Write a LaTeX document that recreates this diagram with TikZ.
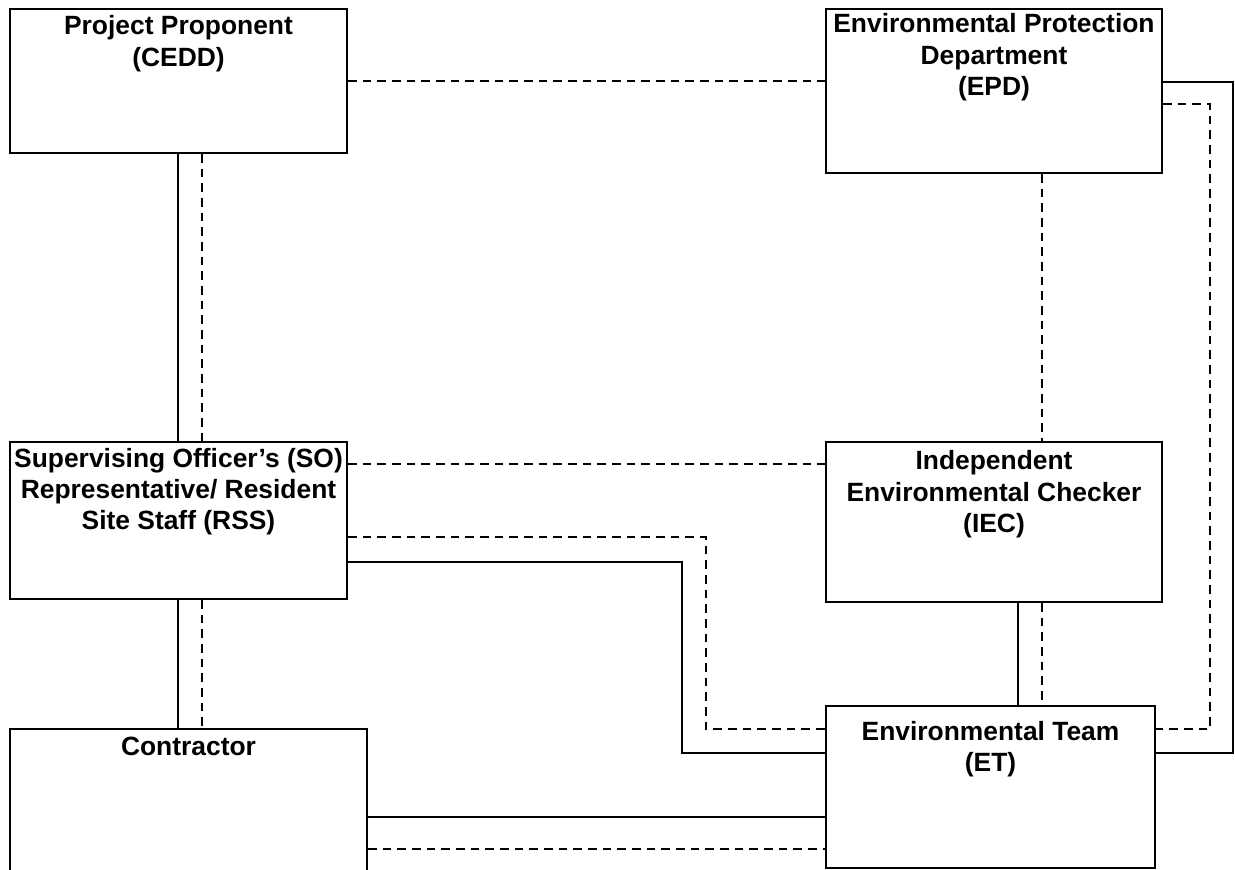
\documentclass[tikz,border=0pt]{standalone}
\usepackage{fontspec}
\setmainfont{Liberation Sans}
\usepackage{xcolor}
\usetikzlibrary{positioning,calc}
\definecolor{boxline}{HTML}{000000}
\definecolor{boxfill}{HTML}{FFFFFF}

\begin{document}
\begin{tikzpicture}[x=0.75pt,y=-0.75pt,
    orgbox/.style={draw=boxline,fill=boxfill,line width=1.5pt,inner sep=0pt},
    orgtext/.style={inner sep=0pt,align=center,
                    font=\bfseries\fontsize{19.8}{23.6}\selectfont},
    solidlink/.style={draw=boxline,line width=1.4pt},
    dashlink/.style={draw=boxline,line width=1.4pt,dash pattern=on 6.5pt off 4.5pt}]
      \useasboundingbox (0,0) rectangle (1235,870);
      % boxes
      \node[orgbox,minimum width=252.75pt,minimum height=108pt]    (pp)  at (178.5,81)    {};
      \node[orgbox,minimum width=252pt,minimum height=123pt]       (epd) at (994,91)      {};
      \node[orgbox,minimum width=252.75pt,minimum height=117.75pt] (so)  at (178.5,520.5) {};
      \node[orgbox,minimum width=252pt,minimum height=120pt]       (iec) at (994,522)     {};
      \node[orgbox,minimum width=267.75pt,minimum height=108.75pt] (con) at (188.5,801.5) {};
      \node[orgbox,minimum width=246.75pt,minimum height=121.5pt]  (et)  at (990.5,787)   {};
      % box texts
      \node[orgtext,below=5.5pt of pp.north]  (pptext)  {Project Proponent\\(CEDD)};
      \node[orgtext,below=4pt of epd.north]   (epdtext) {Environmental Protection\\Department\\(EPD)};
      \node[orgtext,below=5pt of so.north]    (sotext)  {Supervising Officer’s (SO)\\Representative/ Resident\\Site Staff (RSS)};
      \node[orgtext,below=7pt of iec.north]   (iectext) {Independent\\Environmental Checker\\(IEC)};
      \node[orgtext,below=6.5pt of con.north] (context) {Contractor};
      \node[orgtext,below=12pt of et.north]   (ettext)  {Environmental Team\\(ET)};
      % links
      \draw[solidlink] (pp.south -| 178,0) -- (so.north -| 178,0);
      \draw[dashlink]  (pp.south -| 202,0) -- (so.north -| 202,0);
      \draw[solidlink] (so.south -| 178,0) -- (con.north -| 178,0);
      \draw[dashlink]  (so.south -| 202,0) -- (con.north -| 202,0);
      \draw[dashlink]  (pp.east) -- (pp.east -| epd.west);
      \draw[dashlink]  (so.east |- 0,464) -- (iec.west |- 0,464);
      \draw[dashlink]  (so.east |- 0,537) -| (706,729) -- (et.west |- 0,729);
      \draw[solidlink] (so.east |- 0,562) -| (682,753) -- (et.west |- 0,753);
      \draw[dashlink]  (epd.south -| 1042,0) -- (iec.north -| 1042,0);
      \draw[solidlink] (iec.south -| 1018,0) -- (et.north -| 1018,0);
      \draw[dashlink]  (iec.south -| 1042,0) -- (et.north -| 1042,0);
      \draw[solidlink] (epd.east |- 0,82) -| (1233,753) -- (et.east |- 0,753);
      \draw[dashlink]  (epd.east |- 0,104) -| (1210,729) -- (et.east |- 0,729);
      \draw[solidlink] (con.east |- 0,817) -- (et.west |- 0,817);
      \draw[dashlink]  (con.east |- 0,849) -- (et.west |- 0,849);
    \end{tikzpicture}
\end{document}
